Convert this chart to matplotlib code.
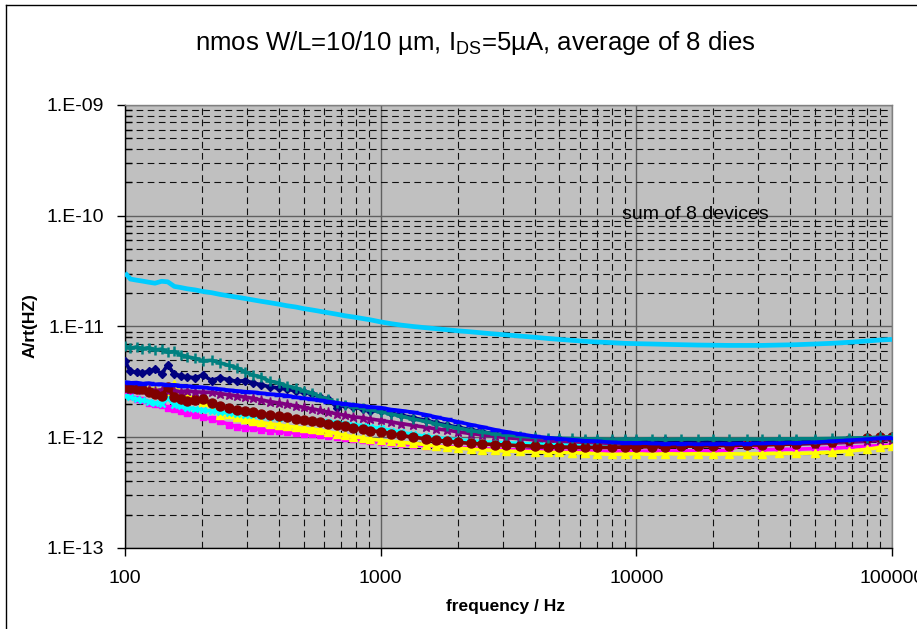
import matplotlib
matplotlib.use("Agg")
import matplotlib.pyplot as plt
from matplotlib.ticker import LogLocator, FuncFormatter, NullFormatter
from matplotlib.lines import Line2D
import numpy as np

plt.rcParams['font.family'] = ['Liberation Sans', 'DejaVu Sans']
plt.rcParams['mathtext.default'] = 'regular'

# frequency points (Hz)
freq = [100, 105, 111, 117, 124, 131, 139, 147, 156, 165,
        175, 188, 202, 218, 235, 255, 274, 295, 316, 340,
        369, 400, 430, 465, 500, 540, 580, 625, 675, 725,
        780, 850, 910, 1000, 1100, 1200, 1340, 1500, 1650, 1815,
        2000, 2250, 2500, 2800, 3100, 3500, 4000, 4500, 5000, 5600,
        6300, 7000, 8000, 9000, 10000, 11500, 13000, 15000, 17500, 20000,
        23000, 27000, 31000, 36000, 42000, 50000, 58000, 68000, 80000, 90000,
        100000]

# noise values in pA/rt(Hz)
navy = [4.85, 3.95, 3.85, 3.8, 3.95, 4.1, 3.75, 4.5, 3.7, 3.6,
        3.5, 3.45, 3.65, 3.25, 3.45, 3.3, 3.2, 3.25, 3.1, 2.98,
        2.85, 2.78, 2.72, 2.62, 2.55, 2.45, 2.32, 2.2, 1.85, 1.95,
        1.87, 1.8, 1.74, 1.72, 1.64, 1.58, 1.5, 1.42, 1.35, 1.29,
        1.23, 1.17, 1.12, 1.07, 1.04, 1.01, 0.99, 0.97, 0.96, 0.95,
        0.95, 0.94, 0.945, 0.935, 0.94, 0.93, 0.935, 0.93, 0.925, 0.93,
        0.925, 0.93, 0.93, 0.935, 0.94, 0.945, 0.95, 0.96, 0.975, 0.99,
        1.0]
magenta = [2.45, 2.35, 2.2, 2.15, 2.05, 2.0, 1.95, 1.85, 1.8, 1.72,
           1.65, 1.6, 1.52, 1.45, 1.4, 1.3, 1.25, 1.22, 1.2, 1.17,
           1.15, 1.13, 1.11, 1.09, 1.08, 1.06, 1.05, 1.02, 1.0, 0.98,
           0.96, 0.94, 0.92, 0.9, 0.88, 0.87, 0.85, 0.84, 0.83, 0.82,
           0.81, 0.8, 0.79, 0.78, 0.77, 0.77, 0.76, 0.76, 0.75, 0.75,
           0.75, 0.745, 0.745, 0.75, 0.745, 0.75, 0.75, 0.755, 0.75, 0.755,
           0.76, 0.9, 0.77, 0.775, 0.78, 0.79, 0.8, 0.81, 0.83, 0.84,
           0.85]
yellow = [3.0, 2.9, 2.85, 2.8, 2.75, 2.7, 2.65, 2.6, 3.05, 2.5,
          2.35, 2.25, 2.1, 1.85, 1.6, 1.62, 1.52, 1.45, 1.4, 1.36,
          1.32, 1.29, 1.26, 1.23, 1.2, 1.18, 1.16, 1.12, 1.08, 1.04,
          1.01, 0.99, 0.96, 0.94, 0.92, 0.9, 0.88, 0.86, 0.83, 0.81,
          0.8, 0.78, 0.77, 0.76, 0.75, 0.745, 0.74, 0.73, 0.73, 0.725,
          0.72, 0.71, 0.7, 0.705, 0.71, 0.7, 0.71, 0.705, 0.71, 0.7,
          0.71, 0.705, 0.71, 0.715, 0.715, 0.72, 0.73, 0.75, 0.78, 0.81,
          0.83]
cyan = [2.35, 2.3, 2.2, 2.15, 2.1, 2.05, 2.0, 2.25, 1.95, 1.9,
        1.85, 1.8, 1.75, 1.72, 1.68, 1.65, 1.62, 1.6, 1.58, 1.55,
        1.52, 1.5, 1.48, 1.46, 1.44, 1.42, 1.4, 1.38, 1.35, 1.32,
        1.3, 1.27, 1.24, 1.2, 1.15, 1.11, 1.06, 1.02, 0.99, 0.97,
        0.95, 0.93, 0.91, 0.9, 0.89, 0.88, 0.87, 0.865, 0.86, 0.86,
        0.855, 0.855, 0.85, 0.85, 0.855, 0.85, 0.85, 0.855, 0.85, 0.855,
        0.855, 0.86, 0.86, 0.865, 0.87, 0.88, 0.9, 0.93, 0.96, 0.99,
        1.02]
purple = [2.75, 2.7, 2.72, 2.66, 2.7, 2.64, 2.68, 2.6, 2.64, 2.58,
          2.62, 2.57, 2.55, 2.54, 2.48, 2.42, 2.36, 2.3, 2.25, 2.17,
          2.1, 2.04, 1.98, 1.92, 1.86, 1.8, 1.75, 1.68, 1.63, 1.58,
          1.53, 1.5, 1.46, 1.42, 1.37, 1.33, 1.28, 1.23, 1.19, 1.16,
          1.12, 1.08, 1.05, 1.02, 0.99, 0.97, 0.95, 0.93, 0.92, 0.91,
          0.9, 0.89, 0.88, 0.88, 0.87, 0.87, 0.865, 0.865, 0.86, 0.86,
          0.86, 0.86, 0.865, 0.865, 0.87, 0.875, 0.885, 0.9, 0.92, 0.94,
          0.95]
maroon = [2.85, 2.8, 2.7, 2.72, 2.55, 2.45, 2.35, 2.85, 2.3, 2.22,
          2.12, 2.15, 2.2, 2.02, 1.92, 1.82, 1.77, 1.72, 1.68, 1.63,
          1.58, 1.55, 1.52, 1.47, 1.43, 1.4, 1.36, 1.33, 1.29, 1.26,
          1.22, 1.18, 1.15, 1.12, 1.08, 1.04, 1.0, 0.97, 0.94, 0.92,
          0.9, 0.88, 0.87, 0.86, 0.85, 0.84, 0.83, 0.82, 0.82, 0.81,
          0.81, 0.81, 0.81, 0.82, 0.82, 0.82, 0.82, 0.83, 0.83, 0.84,
          0.84, 0.85, 0.85, 0.86, 0.87, 0.89, 0.91, 0.94, 0.98, 1.0,
          1.0]
teal = [6.6, 6.35, 6.55, 6.3, 6.45, 6.15, 6.25, 5.85, 5.95, 5.55,
        5.35, 5.15, 4.9, 4.95, 4.7, 4.45, 4.25, 3.9, 3.65, 3.5,
        3.2, 3.1, 2.9, 2.8, 2.62, 2.5, 2.32, 2.2, 2.02, 1.96,
        1.88, 1.83, 1.77, 1.7, 1.62, 1.55, 1.46, 1.39, 1.32, 1.26,
        1.21, 1.15, 1.11, 1.07, 1.05, 1.02, 1.0, 0.99, 0.98, 0.975,
        0.965, 0.97, 0.955, 0.965, 0.96, 0.97, 0.955, 0.965, 0.96, 0.97,
        0.955, 0.965, 0.96, 0.965, 0.97, 0.97, 0.975, 0.985, 0.99, 1.0,
        1.01]
blue = [3.15, 3.1, 3.12, 3.05, 3.08, 3.0, 3.02, 2.95, 2.98, 2.92,
        2.9, 2.85, 2.82, 2.76, 2.72, 2.66, 2.62, 2.58, 2.55, 2.5,
        2.45, 2.42, 2.38, 2.3, 2.25, 2.2, 2.15, 2.1, 2.05, 2.0,
        1.97, 1.92, 1.88, 1.85, 1.78, 1.74, 1.68, 1.6, 1.52, 1.45,
        1.38, 1.3, 1.24, 1.17, 1.12, 1.07, 1.02, 0.99, 0.97, 0.95,
        0.93, 0.92, 0.9, 0.89, 0.89, 0.88, 0.87, 0.875, 0.865, 0.87,
        0.87, 0.875, 0.88, 0.885, 0.89, 0.9, 0.92, 0.94, 0.96, 0.98,
        0.99]
sum8 = [30.5, 26.8, 26.2, 25.7, 25.1, 24.6, 25.6, 25.3, 23.0, 22.5,
        21.9, 21.4, 20.7, 20.2, 19.5, 18.9, 18.4, 17.9, 17.4, 16.9,
        16.4, 15.9, 15.4, 15.0, 14.5, 14.1, 13.7, 13.3, 12.9, 12.5,
        12.2, 11.8, 11.5, 11.0, 10.6, 10.3, 10.0, 9.75, 9.55, 9.35,
        9.15, 8.95, 8.75, 8.55, 8.4, 8.2, 8.0, 7.8, 7.65, 7.5,
        7.35, 7.25, 7.15, 7.05, 7.0, 6.95, 6.9, 6.85, 6.8, 6.78,
        6.75, 6.75, 6.75, 6.8, 6.85, 6.95, 7.05, 7.2, 7.4, 7.55,
        7.65]

y_ticks = [1e-13, 1e-12, 1e-11, 1e-10, 1e-9]
x_ticks = [100, 1000, 10000, 100000]

fig = plt.figure(figsize=(9.17, 6.29), dpi=100)
W, H = 917, 629
ax = fig.add_axes([125 / W, 1 - 548 / H, 767 / W, 443 / H])
ax.set_facecolor('#C0C0C0')
ax.set_xscale('log')
ax.set_yscale('log')
ax.set_xlim(100, 1e5)
ax.set_ylim(1e-13, 1e-9)

ax.xaxis.set_minor_locator(LogLocator(base=10, subs=range(2, 10), numticks=50))
ax.yaxis.set_minor_locator(LogLocator(base=10, subs=range(2, 10), numticks=50))
ax.set_xticks(x_ticks)
ax.set_yticks(y_ticks)
ax.xaxis.set_major_formatter(FuncFormatter(lambda v, p: "%d" % round(v)))
ax.yaxis.set_major_formatter(FuncFormatter(lambda v, p: "1.E-%02d" % (-round(np.log10(v)))))
ax.xaxis.set_minor_formatter(NullFormatter())
ax.yaxis.set_minor_formatter(NullFormatter())

ax.grid(which='major', color='#606060', lw=1.0, ls='-', zorder=0)
ax.grid(which='minor', color='#101010', lw=0.8, ls=(0, (6, 4)), zorder=0)
ax.set_axisbelow(True)

ax.tick_params(axis='y', which='major', direction='out', length=6, width=1, pad=9, labelsize=14)
ax.tick_params(axis='y', which='minor', direction='in', length=5, width=1)
ax.tick_params(axis='x', which='major', direction='out', length=6, width=1, pad=10, labelsize=14)
ax.tick_params(axis='x', which='minor', length=0)

for s in ['left', 'bottom']:
    ax.spines[s].set_color('black')
    ax.spines[s].set_linewidth(1)
for s in ['top', 'right']:
    ax.spines[s].set_color('#808080')
    ax.spines[s].set_linewidth(1)

f = np.array(freq)
series = [
    (navy, '#000080', 'D', 4.5, 1.0),
    (magenta, '#FF00FF', 's', 4.5, 1.0),
    (yellow, '#FFFF00', '^', 5.5, 1.0),
    (cyan, '#00FFFF', 'x', 5, 1.8),
    (purple, '#800080', '*', 6.5, 1.0),
    (maroon, '#800000', 'o', 6.5, 1.0),
    (teal, '#008080', '+', 6.5, 1.8),
    (blue, '#0000FF', '_', 6.5, 2.5),
]
for vals, col, mk, ms, mew in series:
    ax.plot(f, np.array(vals) * 1e-12, color=col, lw=2.6, marker=mk, ms=ms,
            mew=mew, mec=col, mfc=col, zorder=3)
ax.plot(f, np.array(sum8) * 1e-12, color='#00CCFF', lw=3.4, zorder=3,
        solid_capstyle='butt')

ax.text(1.7e4, 1.02e-10, 'sum of 8 devices', ha='center', va='center', fontsize=14)

fig.text(475 / W, 1 - 43 / H, r'nmos W/L=10/10 µm, I$_{DS}$=5µA, average of 8 dies',
         ha='center', va='center', fontsize=18.5)
fig.text(30 / W, 1 - 326 / H, 'A/rt(HZ)', rotation=90, fontweight='bold',
         fontsize=12.5, ha='center', va='center')
fig.text(506 / W, 1 - 606 / H, 'frequency / Hz', fontweight='bold',
         fontsize=12.5, ha='center', va='center')

fig.add_artist(Line2D([5.5 / W, 5.5 / W], [0, 1 - 4.5 / H], transform=fig.transFigure,
                      color='black', lw=1))
fig.add_artist(Line2D([5.5 / W, 1], [1 - 4.5 / H, 1 - 4.5 / H], transform=fig.transFigure,
                      color='black', lw=1))

fig.savefig('out.png', dpi=100, facecolor='white')
